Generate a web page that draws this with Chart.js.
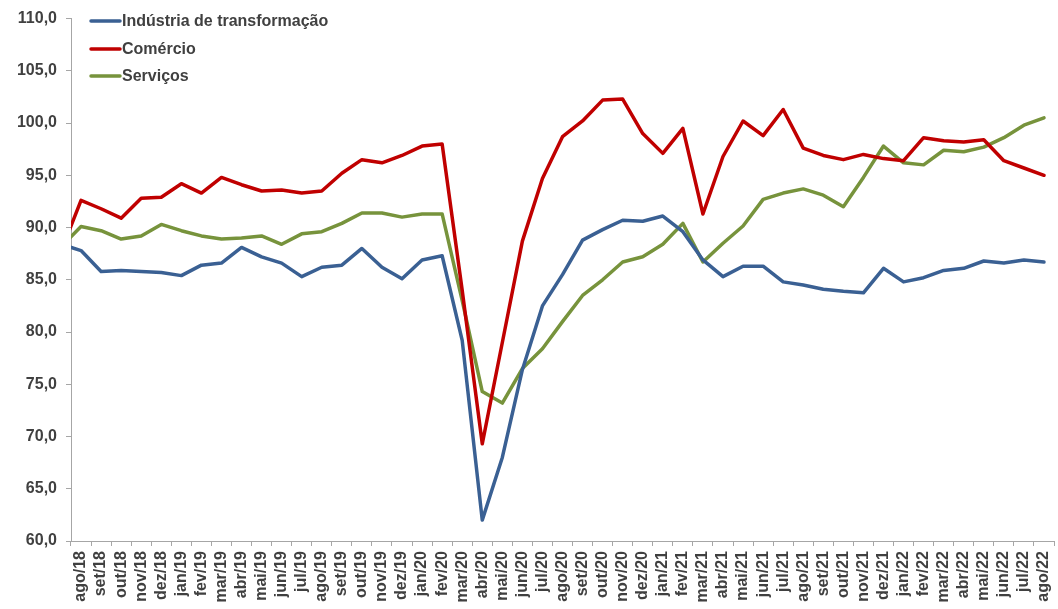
<!DOCTYPE html>
<html>
<head>
<meta charset="utf-8">
<script src="https://cdn.jsdelivr.net/npm/chart.js@4/dist/chart.umd.min.js"></script>
<style>
  html, body { margin: 0; padding: 0; background: #fff; }
  #wrap { width: 1058px; height: 609px; position: relative; }
</style>
</head>
<body>
<div id="wrap"><canvas id="chart"></canvas></div>
<script>
// months; "jul/18" sits just left of the axis (only its segment shows)
const months = [
  "jul/18", "ago/18", "set/18", "out/18", "nov/18", "dez/18",
  "jan/19", "fev/19", "mar/19", "abr/19", "mai/19", "jun/19", "jul/19", "ago/19", "set/19", "out/19", "nov/19", "dez/19",
  "jan/20", "fev/20", "mar/20", "abr/20", "mai/20", "jun/20", "jul/20", "ago/20", "set/20", "out/20", "nov/20", "dez/20",
  "jan/21", "fev/21", "mar/21", "abr/21", "mai/21", "jun/21", "jul/21", "ago/21", "set/21", "out/21", "nov/21", "dez/21",
  "jan/22", "fev/22", "mar/22", "abr/22", "mai/22", "jun/22", "jul/22", "ago/22"
];

const industria = [
  88.4, 87.8, 85.8, 85.9, 85.8, 85.7,
  85.4, 86.4, 86.6, 88.1, 87.2, 86.6, 85.3, 86.2, 86.4, 88.0, 86.2, 85.1,
  86.9, 87.3, 79.2, 62.0, 68.0, 76.4, 82.5, 85.5, 88.8, 89.8, 90.7, 90.6,
  91.1, 89.6, 86.9, 85.3, 86.3, 86.3, 84.8, 84.5, 84.1, 83.9, 83.75, 86.1,
  84.8, 85.2, 85.9, 86.1, 86.8, 86.6, 86.9, 86.7
];

const comercio = [
  87.7, 92.6, 91.8, 90.9, 92.8, 92.9,
  94.2, 93.3, 94.8, 94.1, 93.5, 93.6, 93.3, 93.5, 95.2, 96.5, 96.2, 96.9,
  97.8, 98.0, 84.0, 69.3, 79.0, 88.7, 94.7, 98.7, 100.2, 102.2, 102.3, 99.0,
  97.1, 99.5, 91.3, 96.8, 100.2, 98.8, 101.3, 97.6, 96.9, 96.5, 97.0, 96.6,
  96.4, 98.6, 98.3, 98.2, 98.4, 96.4, 95.7, 95.0
];

const servicos = [
  88.15, 90.1, 89.7, 88.9, 89.2, 90.3,
  89.7, 89.2, 88.9, 89.0, 89.2, 88.4, 89.4, 89.6, 90.4, 91.4, 91.4, 91.0,
  91.3, 91.3, 83.0, 74.3, 73.2, 76.5, 78.4, 81.0, 83.5, 85.0, 86.7, 87.2,
  88.4, 90.4, 86.7, 88.5, 90.15, 92.7, 93.3, 93.7, 93.1, 92.0, 94.8, 97.8,
  96.2, 96.0, 97.4, 97.25, 97.7, 98.6, 99.8, 100.5
];

const FONT = "'Liberation Sans', Arial, sans-serif";
const TEXT = "#404040";
const AXIS = "#a6a6a6";

function line(label, data, color) {
  return {
    label: label,
    data: data,
    borderColor: color,
    backgroundColor: color,
    borderWidth: 3.5,
    borderJoinStyle: "round",
    borderCapStyle: "round",
    pointRadius: 0,
    tension: 0,
    fill: false
  };
}

// legend drawn inside the plot, top-left
const insideLegend = {
  id: "insideLegend",
  afterDraw(chart) {
    const ctx = chart.ctx;
    const rows = [21, 49, 76];
    ctx.save();
    ctx.font = "bold 16px " + FONT;
    ctx.textBaseline = "middle";
    ctx.textAlign = "left";
    chart.data.datasets.forEach((ds, i) => {
      ctx.strokeStyle = ds.borderColor;
      ctx.lineWidth = 3.5;
      ctx.lineCap = "round";
      ctx.beginPath();
      ctx.moveTo(91, rows[i]);
      ctx.lineTo(120, rows[i]);
      ctx.stroke();
      ctx.fillStyle = TEXT;
      ctx.fillText(ds.label, 122, rows[i] + 1);
    });
    ctx.restore();
  }
};

new Chart(document.getElementById("chart"), {
  type: "line",
  data: {
    labels: months,
    datasets: [
      line("Indústria de transformação", industria, "#3a6093"),
      line("Comércio", comercio, "#c00000"),
      line("Serviços", servicos, "#77933c")
    ]
  },
  options: {
    responsive: true,
    maintainAspectRatio: false,
    animation: false,
    layout: { padding: { top: 18, right: 4, left: 0, bottom: 0 } },
    plugins: {
      legend: { display: false },
      tooltip: { enabled: false }
    },
    scales: {
      x: {
        type: "category",
        min: "ago/18",
        offset: true,
        grid: { offset: true, drawOnChartArea: false, tickLength: 5, color: AXIS },
        border: { color: AXIS },
        ticks: {
          autoSkip: false,
          minRotation: 90,
          maxRotation: 90,
          padding: 5,
          color: TEXT,
          font: { family: FONT, size: 16, weight: "bold" }
        },
        afterFit(scale) {
          scale.height = 68;
          scale.paddingLeft = 0;
          scale.paddingRight = 0;
        }
      },
      y: {
        min: 60,
        max: 110,
        grid: { drawOnChartArea: false, tickLength: 5, color: AXIS },
        border: { color: AXIS },
        ticks: {
          stepSize: 5,
          padding: 9,
          color: TEXT,
          font: { family: FONT, size: 16, weight: "bold" },
          callback: (v) => v.toFixed(1).replace(".", ",")
        },
        afterFit(scale) { scale.width = 71; }
      }
    }
  },
  plugins: [insideLegend]
});
</script>
</body>
</html>
